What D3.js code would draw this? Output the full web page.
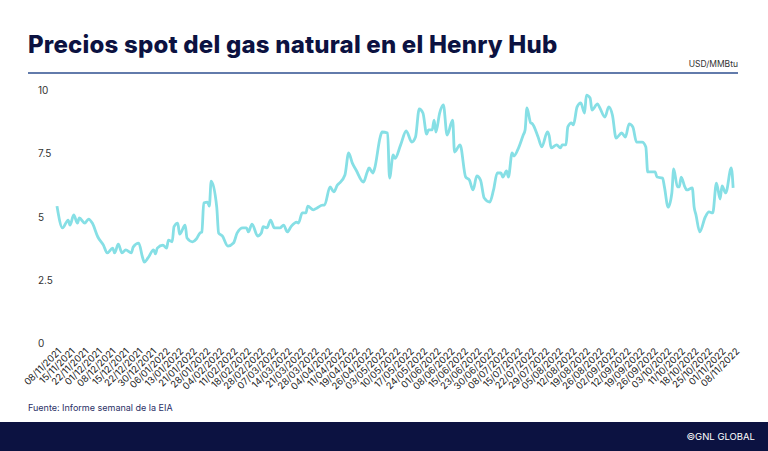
<!DOCTYPE html>
<html>
<head>
<meta charset="utf-8">
<script src="https://cdn.jsdelivr.net/npm/d3@7"></script>
<style>
  body { margin: 0; background: #fff; }
  text { font-family: "Inter", "Noto Sans", sans-serif; }
</style>
</head>
<body>
<svg id="chart" width="768" height="451"></svg>
<script>
// dias desde 08/11/2021 y precio spot (USD/MMBtu)
const dayOffsets = [0,3,6,7,9,11,12,15,17,19,22,25,27,30,31,33,35,37,40,41,44,46,47,49,52,53,54,57,59,60,62,63,65,66,69,70,73,75,77,78,79,81,82,83,86,87,89,92,95,97,100,102,103,105,108,110,111,113,115,117,120,122,124,126,129,130,132,134,135,138,140,143,144,147,149,151,152,155,157,159,161,165,167,168,170,171,174,175,178,179,181,182,185,188,191,193,195,197,199,200,202,203,204,206,208,210,213,214,217,220,222,224,226,228,230,233,235,237,239,240,242,243,245,246,248,251,252,253,255,256,259,261,264,265,266,269,271,272,274,275,277,278,280,282,284,285,287,288,291,292,295,297,299,301,304,306,308,310,312,315,317,318,322,323,326,327,329,331,332,334,335,336,338,339,342,343,344,346,349,351,353,355,357,358,360,363,364];
const prices = [5.41,4.55,4.86,4.66,5.06,4.74,4.94,4.74,4.90,4.74,4.19,3.87,3.56,3.75,3.56,3.91,3.56,3.68,3.56,3.79,3.95,3.40,3.20,3.36,3.68,3.52,3.75,3.87,3.75,4.07,4.00,4.60,4.74,4.30,4.66,4.15,4.00,4.11,4.35,4.39,5.53,5.57,5.41,6.40,5.37,4.35,4.23,3.83,3.95,4.35,4.55,4.55,4.39,4.70,4.23,4.35,4.60,4.55,4.86,4.55,4.55,4.66,4.39,4.60,4.78,4.74,5.14,5.14,5.41,5.26,5.34,5.45,5.45,6.17,5.97,6.25,6.32,6.64,7.51,7.11,6.84,6.36,6.76,6.92,6.72,6.90,8.14,8.34,8.30,6.52,7.43,7.30,7.83,8.38,7.94,8.14,9.25,9.09,8.26,8.42,8.42,8.81,8.34,9.09,9.41,8.22,8.81,7.55,7.83,6.56,6.44,6.05,6.60,6.44,5.73,5.57,6.05,6.72,6.72,6.56,6.80,6.56,7.51,7.39,7.63,8.22,8.42,9.29,8.70,8.66,8.14,7.75,8.34,8.18,7.71,7.83,7.71,7.83,7.83,8.54,8.70,8.62,9.33,9.49,9.09,9.80,9.68,9.21,9.45,9.33,8.93,9.33,9.01,8.10,8.30,8.14,8.66,8.54,7.94,7.94,7.75,6.76,6.76,6.56,6.52,6.17,5.37,5.93,6.88,6.17,6.17,6.56,6.17,6.05,6.13,5.37,5.06,4.39,4.98,5.18,5.14,6.32,5.69,6.21,5.93,6.92,6.13];
const tickLabels = ["08/11/2021","15/11/2021","22/11/2021","01/12/2021","08/12/2021","15/12/2021","22/12/2021","30/12/2021","06/01/2022","13/01/2022","21/01/2022","28/01/2022","04/02/2022","11/02/2022","18/02/2022","28/02/2022","07/03/2022","14/03/2022","21/03/2022","28/03/2022","04/04/2022","11/04/2022","19/04/2022","26/04/2022","03/05/2022","10/05/2022","17/05/2022","24/05/2022","01/06/2022","08/06/2022","15/06/2022","23/06/2022","30/06/2022","08/07/2022","15/07/2022","22/07/2022","29/07/2022","05/08/2022","12/08/2022","19/08/2022","26/08/2022","02/09/2022","12/09/2022","19/09/2022","26/09/2022","03/10/2022","11/10/2022","18/10/2022","25/10/2022","01/11/2022","08/11/2022"];
const yTicks = [0, 2.5, 5, 7.5, 10];

const parse = d3.timeParse("%d/%m/%Y");
const start = parse("08/11/2021");
const data = dayOffsets.map((d, i) => ({ date: d3.timeDay.offset(start, d), value: prices[i] }));

const svg = d3.select("#chart");
const navy = "#0c1241";

svg.append("text").attr("x", 28).attr("y", 53)
  .attr("font-size", 24).attr("font-weight", 800).attr("fill", navy)
  .attr("letter-spacing", 0.2)
  .text("Precios spot del gas natural en el Henry Hub");
svg.append("text").attr("x", 738).attr("y", 67).attr("text-anchor", "end")
  .attr("font-size", 8.5).attr("fill", "#333").text("USD/MMBtu");
svg.append("line").attr("x1", 28).attr("x2", 738).attr("y1", 73).attr("y2", 73)
  .attr("stroke", "#2e4f8f").attr("stroke-width", 1.5);

const x = d3.scaleTime().domain([start, parse("08/11/2022")]).range([57, 735]);
const xLab = d3.scalePoint().domain(tickLabels).range([57, 735]);
const y = d3.scaleLinear().domain([0, 10]).range([343, 90]);

svg.append("g").selectAll("text").data(yTicks).join("text")
  .attr("x", 38).attr("y", d => y(d) + 4)
  .attr("font-size", 10).attr("fill", "#333")
  .text(d => String(d));

svg.append("g").selectAll("text").data(tickLabels).join("text")
  .attr("font-size", 9.5).attr("fill", "#222").attr("text-anchor", "end")
  .attr("transform", d => `translate(${xLab(d) + 5},${352}) rotate(-45)`)
  .text(d => d);

svg.append("path").datum(data)
  .attr("fill", "none").attr("stroke", "#86dfe5").attr("stroke-width", 2.8)
  .attr("stroke-linejoin", "round")
  .attr("d", d3.line().x(d => x(d.date)).y(d => y(d.value)).curve(d3.curveMonotoneX));

svg.append("text").attr("x", 28).attr("y", 411)
  .attr("font-size", 9).attr("fill", "#2a2f66").text("Fuente: Informe semanal de la EIA");

svg.append("rect").attr("x", 0).attr("y", 422).attr("width", 768).attr("height", 29).attr("fill", navy);
svg.append("text").attr("x", 755).attr("y", 440).attr("text-anchor", "end")
  .attr("font-size", 9.5).attr("fill", "#fff").text("©GNL GLOBAL");
</script>
</body>
</html>
